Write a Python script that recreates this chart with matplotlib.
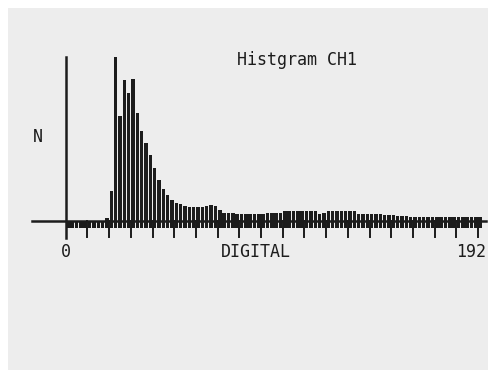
import numpy as np
import matplotlib
matplotlib.use("Agg")
import matplotlib.pyplot as plt
from matplotlib.patches import Rectangle

# histogram of channel 1, 2-code bins from 0 to 192 (counts)
bin_width = 2
counts = [
    0, 0, 0, 0, 0, 0, 0, 0, 0, 3,
    30, 164, 105, 141, 128, 142, 108, 90, 78, 66,
    53, 41, 32, 26, 21, 18, 17, 15, 14, 14,
    14, 14, 15, 16, 15, 11, 8, 8, 8, 7,
    7, 7, 7, 7, 7, 7, 8, 8, 8, 8,
    10, 10, 10, 10, 10, 10, 10, 10, 7, 8,
    10, 10, 10, 10, 10, 10, 10, 7, 7, 7,
    7, 7, 7, 6, 6, 6, 5, 5, 5, 4,
    4, 4, 4, 4, 4, 4, 4, 4, 4, 4,
    4, 4, 4, 4, 4, 4,
]
x_max = 192
major_step = 10

title = "Histgram CH1"
xlabel = "DIGITAL"
ylabel = "N"

W, H, DPI = 493, 370, 100
px_per_unit = 2.17
x0_px, base_px = 65.7, 221

fig = plt.figure(figsize=(W / DPI, H / DPI), dpi=DPI, facecolor="white")
ax = fig.add_axes([0, 0, 1, 1])
ax.set_xlim(-x0_px / px_per_unit, (W - x0_px) / px_per_unit)
ax.set_ylim(-(H - base_px), base_px)
ax.axis("off")
ax.add_patch(Rectangle((8 / W, 0), 480 / W, (H - 8) / H, transform=ax.transAxes,
                       facecolor="#ededed", edgecolor="none", zorder=0))

ink = "#1c1c1c"
mono = "DejaVu Sans Mono"

counts = np.array(counts, dtype=float)
centers = np.arange(len(counts)) * bin_width + bin_width / 2
below = 7
ax.bar(centers, counts + below, bottom=-below, width=1.6, color=ink, linewidth=0, zorder=3)

# axes lines
ax.plot([-15.4, 193.5], [0, 0], color=ink, lw=1.8, zorder=4)
ax.plot([0, 0], [-17, 164], color=ink, lw=1.8, zorder=4)
for t in np.arange(major_step, x_max, major_step):
    ax.plot([t, t], [0, -16], color=ink, lw=1.4, zorder=4)

ax.text(-12.8, 84, ylabel, fontsize=12, family=mono, color=ink, ha="center", va="center")
ax.text(0, -31, "0", fontsize=12, family=mono, color=ink, ha="center", va="center")
ax.text(87.5, -31, xlabel, fontsize=12, family=mono, color=ink, ha="center", va="center")
ax.text(193.5, -31, str(x_max), fontsize=12, family=mono, color=ink, ha="right", va="center")
ax.text(106.7, 161, title, fontsize=12, family=mono, color=ink, ha="center", va="center")

fig.savefig("out.png", dpi=DPI, facecolor=fig.get_facecolor())
